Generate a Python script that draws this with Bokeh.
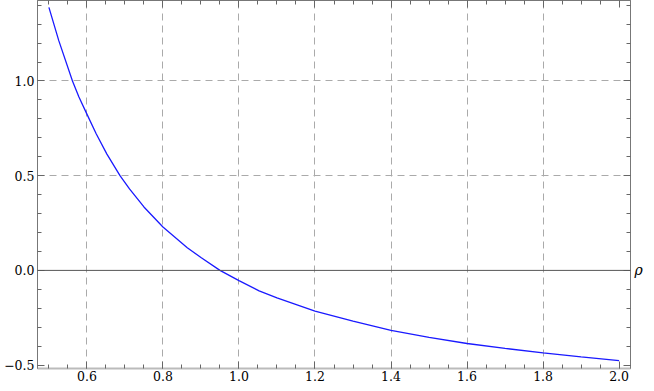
from bokeh.plotting import figure
from bokeh.models import (LinearAxis, FixedTicker, Span, Range1d)
from bokeh.embed import file_html
from bokeh.resources import INLINE

# data
rho = [0.5, 0.526, 0.562, 0.579, 0.6, 0.6247, 0.6526, 0.687, 0.712, 0.75,
       0.8, 0.864, 0.9, 0.95, 1.0, 1.053, 1.1, 1.2, 1.3, 1.4, 1.5, 1.6,
       1.7, 1.8, 1.9, 2.0]
vals = [1.389, 1.213, 1.0, 0.915, 0.825, 0.72, 0.614, 0.5, 0.43, 0.335,
        0.229, 0.120, 0.068, 0.0, -0.054, -0.108, -0.145, -0.215, -0.268,
        -0.317, -0.354, -0.386, -0.412, -0.436, -0.457, -0.476]

x_major = [0.6, 0.8, 1.0, 1.2, 1.4, 1.6, 1.8, 2.0]
x_minor = [round(0.5 + 0.05 * i, 2) for i in range(31)]
y_major = [-0.5, 0.0, 0.5, 1.0]
y_minor = [round(-0.5 + 0.1 * i, 1) for i in range(20)]
x_grid = [0.6, 0.8, 1.0, 1.2, 1.4, 1.6, 1.8]
y_grid = [0.5, 1.0]
y_labels = {-0.5: "\u22120.5", 0.0: "0.0", 0.5: "0.5", 1.0: "1.0"}
x_labels = {0.6: "0.6", 0.8: "0.8", 1.0: "1.0", 1.2: "1.2", 1.4: "1.4",
            1.6: "1.6", 1.8: "1.8", 2.0: "2.0"}
right_labels = {-0.5: "", 0.0: "\u03c1", 0.5: "", 1.0: ""}
top_labels = {t: "" for t in x_major}

FONT = "DejaVu Serif"
p = figure(width=646, height=383, output_backend="svg", toolbar_location=None,
           x_range=Range1d(0.47, 2.03), y_range=Range1d(-0.518, 1.425),
           x_axis_location=None, y_axis_location=None,
           min_border_left=37, min_border_right=16, min_border_top=0,
           min_border_bottom=0)
p.outline_line_color = "#777777"
p.background_fill_color = "white"
p.border_fill_color = "white"

def make_axis(kind, loc, labels, standoff, size="12.5px",
              line_color="#777777", line_width=1):
    ax = LinearAxis()
    if kind == "x":
        ax.ticker = FixedTicker(ticks=x_major, minor_ticks=x_minor)
    else:
        ax.ticker = FixedTicker(ticks=y_major, minor_ticks=y_minor)
    ax.major_label_overrides = labels
    ax.major_tick_in = 7
    ax.major_tick_out = 0
    ax.minor_tick_in = 4
    ax.minor_tick_out = 0
    ax.major_tick_line_color = "#666666"
    ax.minor_tick_line_color = "#666666"
    ax.axis_line_color = line_color
    ax.axis_line_width = line_width
    ax.major_label_text_font = FONT
    ax.major_label_text_font_size = size
    ax.major_label_text_color = "black"
    ax.major_label_standoff = standoff
    p.add_layout(ax, loc)
    return ax

make_axis("x", "below", x_labels, 2, line_color="#bbbbbb", line_width=2)
make_axis("y", "left", y_labels, 3)
make_axis("x", "above", top_labels, 0, size="0px")
rax = make_axis("y", "right", right_labels, 4, size="14px")
rax.major_label_text_font_style = "italic"

p.xgrid.ticker = FixedTicker(ticks=x_grid)
p.ygrid.ticker = FixedTicker(ticks=y_grid)
for g in (p.xgrid, p.ygrid):
    g.grid_line_color = "#aaaaaa"
    g.grid_line_dash = "7 5"
    g.grid_line_width = 1

p.add_layout(Span(location=0, dimension="width", line_color="#555555",
                  line_width=1))

p.line(rho, vals, line_color="#1a1aff", line_width=1.3)

open("out.html", "w").write(file_html(p, INLINE))
